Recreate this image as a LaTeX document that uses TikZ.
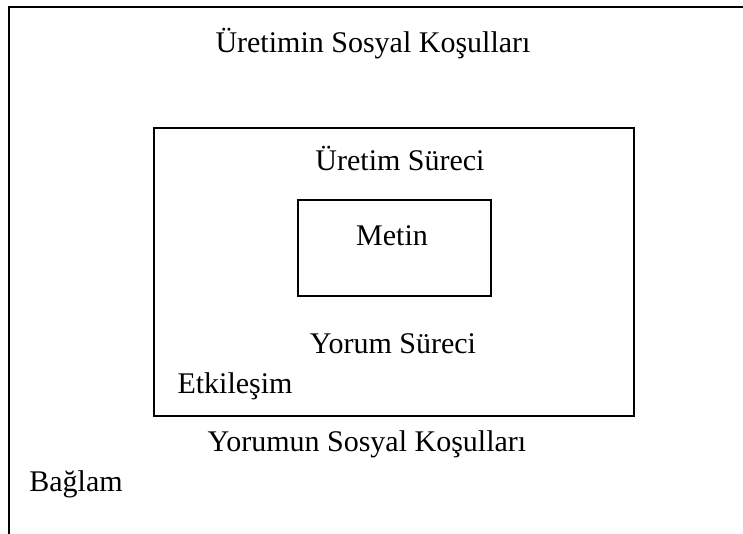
\documentclass[tikz,border=0pt]{standalone}
\usepackage{fontspec}
\setmainfont{Liberation Serif}
\begin{document}
\begin{tikzpicture}[x=1pt,y=-1pt,
  frame/.style={draw=black,line width=2.2pt},
  lbl/.style={anchor=base,inner sep=0pt,font=\fontsize{30}{36}\selectfont}]
\useasboundingbox (0,0) rectangle (743,534);
% outer context: only top and left edges fall inside the page
\draw[frame] (743,7) -- (9,7) -- (9,534);
% production/interpretation box and the text box
\node[frame,anchor=north west,minimum width=480pt,minimum height=288pt,inner sep=0pt] (proc) at (153,127) {};
\node[frame,anchor=north west,minimum width=193pt,minimum height=96pt,inner sep=0pt] (text) at (297,199) {};
% labels
\node[lbl] (uret) at (373,53) {Üretimin Sosyal Koşulları};
\node[lbl] (ursur) at (400,171) {Üretim Süreci};
\node[lbl] (metin) at (392,246) {Metin};
\node[lbl] (yosur) at (393,353) {Yorum Süreci};
\node[lbl] (etk) at (235,393) {Etkileşim};
\node[lbl] (yorsos) at (367,451) {Yorumun Sosyal Koşulları};
\node[lbl] (bag) at (76,491) {Bağlam};
\end{tikzpicture}
\end{document}
